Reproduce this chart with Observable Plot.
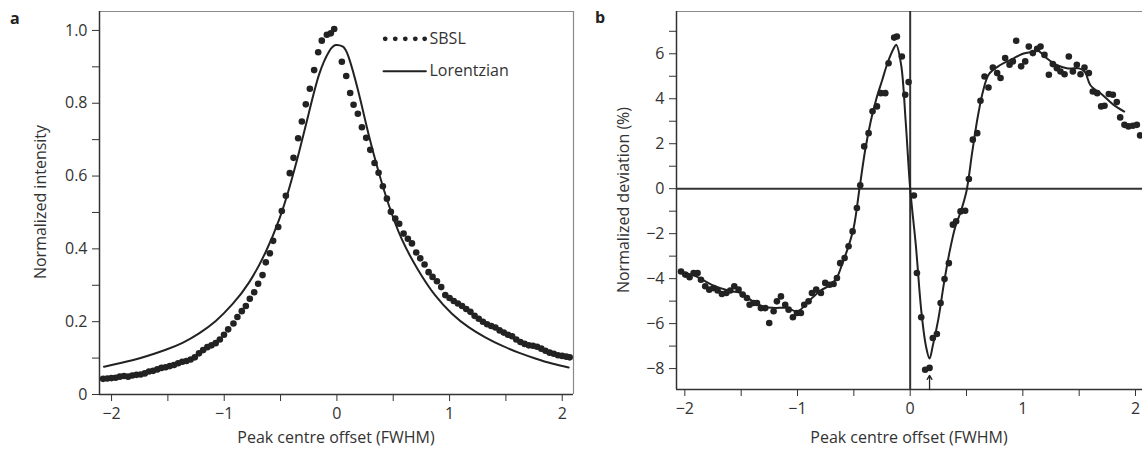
<!DOCTYPE html>
<html><head><meta charset="utf-8">
<script src="https://cdn.jsdelivr.net/npm/d3@7"></script>
<script src="https://cdn.jsdelivr.net/npm/@observablehq/plot@0.6"></script>
<style>
body{margin:0;background:#fff;}
#wrap{position:relative;width:1142px;height:452px;overflow:hidden;font-family:"Open Sans",sans-serif;color:#333;}
.panel{position:absolute;top:0;}
.tag{position:absolute;font-weight:700;font-size:16px;color:#222;line-height:1;}
.ylab{position:absolute;font-size:16px;white-space:nowrap;transform:translate(-50%,-50%) rotate(-90deg);}
.xlab{position:absolute;font-size:16px;white-space:nowrap;transform:translate(-50%,-50%);}
</style></head><body>
<div id="wrap">
  <div class="panel" id="pa" style="left:0"></div>
  <div class="panel" id="pb" style="left:576px"></div>
  <div class="tag" style="left:10px;top:10px">a</div>
  <div class="tag" style="left:595px;top:9px">b</div>
  <div class="ylab" style="left:40px;top:202px">Normalized intensity</div>
  <div class="ylab" style="left:623px;top:200px">Normalized deviation (%)</div>
  <div class="xlab" style="left:336px;top:437px">Peak centre offset (FWHM)</div>
  <div class="xlab" style="left:909px;top:437px">Peak centre offset (FWHM)</div>
</div>
<script>
// ---------- Panel a data ----------
const sbslX = [-2.075,-2.038,-2.001,-1.964,-1.927,-1.890,-1.853,-1.816,-1.779,-1.742,-1.705,-1.668,-1.631,-1.594,-1.557,-1.520,-1.483,-1.446,-1.409,-1.372,-1.335,-1.298,-1.261,-1.224,-1.187,-1.150,-1.113,-1.076,-1.039,-1.002,-0.965,
 -0.918,-0.883,-0.844,-0.808,-0.773,-0.734,-0.699,-0.660,-0.631,-0.595,-0.566,-0.521,-0.489,-0.453,-0.418,-0.385,-0.344,-0.311,-0.276,-0.240,-0.202,-0.166,-0.134,-0.089,-0.054,-0.024,
 0.044,0.083,0.118,0.148,0.186,0.222,0.260,0.296,0.334,0.370,0.408,0.444,0.479,0.518,0.553,0.592,0.630,0.666,0.704,0.740,0.778,0.814,0.849,0.888,0.926,
 0.962,1.000,1.037,1.074,1.111,1.148,1.185,1.222,1.259,1.296,1.333,1.370,1.407,1.444,1.481,1.518,1.555,1.592,1.629,1.666,1.703,1.740,1.777,1.814,1.851,1.888,1.925,1.962,1.999,2.036,2.066];
const sbslY = [0.043,0.044,0.045,0.046,0.049,0.051,0.049,0.052,0.054,0.055,0.058,0.063,0.065,0.069,0.073,0.075,0.078,0.081,0.086,0.090,0.092,0.096,0.102,0.113,0.122,0.130,0.135,0.141,0.151,0.164,0.179,
 0.195,0.213,0.229,0.243,0.263,0.281,0.304,0.328,0.363,0.388,0.422,0.460,0.504,0.546,0.608,0.650,0.704,0.750,0.797,0.840,0.891,0.940,0.972,0.988,0.992,1.004,
 0.914,0.875,0.828,0.796,0.771,0.734,0.705,0.672,0.636,0.609,0.572,0.538,0.502,0.483,0.469,0.442,0.428,0.415,0.390,0.374,0.357,0.336,0.323,0.311,0.295,
 0.273,0.265,0.257,0.250,0.243,0.235,0.227,0.216,0.208,0.200,0.193,0.188,0.184,0.176,0.170,0.164,0.160,0.151,0.144,0.139,0.135,0.134,0.131,0.126,0.120,0.115,0.112,0.108,0.106,0.104,0.102];
const lorX = [-2.067,-1.815,-1.670,-1.519,-1.370,-1.223,-1.075,-0.927,-0.779,-0.631,-0.512,-0.424,-0.335,-0.246,-0.157,-0.068,-0.009,0.050,0.103,0.192,0.281,0.370,0.459,0.577,0.725,0.873,1.021,1.169,1.317,1.465,1.613,1.761,1.909,2.057];
const lorY = [0.076,0.094,0.107,0.123,0.142,0.168,0.202,0.248,0.308,0.392,0.481,0.566,0.667,0.777,0.880,0.943,0.960,0.956,0.928,0.830,0.715,0.612,0.522,0.426,0.340,0.272,0.222,0.185,0.157,0.134,0.115,0.099,0.085,0.074];
const xMajorA = [-2,-1,0,1,2];
const xMinorA = [-1.5,-0.5,0.5,1.5];
const yMajorA = [0,0.2,0.4,0.6,0.8,1.0];
const yMinorA = [0.1,0.3,0.5,0.7,0.9];
const xDomainA = [-2.107,2.1];
const yDomainA = [0,1.052];
const legendNames = ["SBSL","Lorentzian"];
const legendDotX = [0.429,0.518,0.607,0.696,0.779];
const legendRowY = [0.977,0.888];
const legendLineX = [0.414,0.790];
const legendTextX = 0.822;

// ---------- Panel b data ----------
const devX = [-2.034,-1.996,-1.958,-1.922,-1.887,-1.857,-1.819,-1.783,-1.745,-1.709,-1.671,-1.632,-1.597,-1.561,-1.523,-1.487,-1.449,-1.425,-1.390,-1.360,-1.325,-1.286,-1.251,-1.212,-1.183,-1.147,-1.109,-1.079,-1.041,-1.005,-0.970,-0.940,-0.902,-0.872,-0.834,-0.792,-0.754,-0.715,-0.680,-0.650,-0.621,-0.582,-0.547,-0.511,-0.473,-0.443,-0.408,-0.369,-0.334,-0.295,-0.260,-0.221,-0.192,-0.142,-0.118,-0.074,-0.044,-0.014,
 0.033,0.060,0.098,0.133,0.172,0.201,0.237,0.270,0.305,0.343,0.379,0.408,0.447,0.488,0.521,0.556,0.595,0.624,0.660,0.695,0.734,0.772,0.802,0.843,0.882,0.911,0.941,0.985,1.021,1.053,1.089,1.127,1.157,1.192,1.231,1.266,1.302,1.334,1.370,1.408,1.444,1.479,1.512,1.547,1.586,1.621,1.660,1.695,1.725,1.763,1.799,1.834,1.864,1.902,1.937,1.976,2.012,2.041];
const devY = [-3.68,-3.82,-3.94,-3.75,-3.75,-4.05,-4.34,-4.49,-4.42,-4.53,-4.68,-4.64,-4.53,-4.34,-4.49,-4.71,-4.86,-5.16,-5.08,-5.08,-5.31,-5.31,-5.97,-5.45,-5.01,-4.79,-5.16,-5.38,-5.72,-5.53,-5.53,-5.16,-5.01,-4.64,-4.49,-4.64,-4.19,-4.27,-4.24,-3.97,-3.31,-3.08,-2.56,-1.90,-0.86,0.15,1.88,2.47,3.44,3.66,4.25,4.25,5.58,6.72,6.77,5.88,4.18,4.74,
 -0.30,-3.75,-5.72,-8.05,-7.97,-6.64,-6.46,-5.08,-4.02,-3.31,-1.60,-1.45,-1.01,-0.98,0.43,2.18,2.47,3.91,4.99,4.50,5.39,5.14,4.92,5.81,5.51,5.66,6.58,5.44,5.66,6.32,6.03,6.22,6.32,5.95,5.07,5.54,5.36,5.21,5.09,5.88,5.21,5.51,5.09,5.39,5.14,4.32,4.25,3.66,3.69,4.21,4.18,3.85,3.17,2.84,2.77,2.80,2.84,2.37];
const fitX = [-2.03,-1.9,-1.75,-1.6,-1.5,-1.4,-1.3,-1.2,-1.1,-1.0,-0.9,-0.8,-0.7,-0.65,-0.6,-0.55,-0.5,-0.45,-0.4,-0.35,-0.3,-0.25,-0.2,-0.15,-0.124,-0.08,-0.04,0.0,0.05,0.1,0.14,0.172,0.2,0.25,0.3,0.35,0.4,0.45,0.5,0.55,0.6,0.65,0.7,0.8,0.9,1.0,1.1,1.133,1.2,1.3,1.4,1.5,1.55,1.6,1.7,1.8,1.9];
const fitY = [-3.7,-3.9,-4.3,-4.55,-4.65,-5.0,-5.25,-5.3,-5.3,-5.45,-5.0,-4.55,-4.25,-3.95,-3.3,-2.6,-1.7,0.0,1.7,3.0,4.0,4.8,5.6,6.2,6.4,5.5,3.0,0.0,-2.5,-5.5,-7.0,-7.55,-7.0,-5.8,-4.2,-2.8,-1.7,-1.0,-0.1,1.6,3.2,4.4,5.1,5.5,5.75,6.0,6.1,6.15,5.85,5.5,5.35,5.35,5.2,4.6,4.2,3.75,3.43];
const xMajorB = [-2,-1,0,1,2];
const xMinorB = [-1.5,-0.5,0.5,1.5];
const yMajorB = [-8,-6,-4,-2,0,2,4,6];
const yMinorB = [-7,-5,-3,-1,1,3,5,7];
const xDomainB = [-2.074,2.062];
const yDomainB = [-8.93,7.88];
const arrowMark = [{x1:0.172, y1:-8.93, x2:0.172, y2:-8.3}];

// ---------- helpers ----------
const fmtSigned = d => d < 0 ? "\u2212" + Math.abs(d) : String(d);
const fmtA = d => d === 0 ? "0" : d.toFixed(1);
const ink = "#222";
const style = {fontFamily:'"Open Sans", sans-serif', fontSize:"16px", color:"#333", background:"transparent", overflow:"visible"};

const sbsl = sbslX.map((x,i)=>({x, y:sbslY[i]}));
const lor = lorX.map((x,i)=>({x, y:lorY[i]}));
const legDots = legendDotX.map(x=>({x, y:legendRowY[0]}));
const legLine = legendLineX.map(x=>({x, y:legendRowY[1]}));
const legText = legendNames.map((t,i)=>({x:legendTextX, y:legendRowY[i], t}));

const plotA = Plot.plot({
  width:585, height:452,
  marginLeft:99, marginRight:12, marginTop:11, marginBottom:58,
  style,
  x:{domain:xDomainA},
  y:{domain:yDomainA},
  marks:[
    Plot.ruleY([yDomainA[1]], {stroke:"#8a8a8a", strokeWidth:1.2}),
    Plot.ruleX([xDomainA[1]], {stroke:"#8a8a8a", strokeWidth:1.2}),
    Plot.axisX(xMajorA, {tickSize:7, tickPadding:6, tickFormat:fmtSigned, label:null, stroke:"#333"}),
    Plot.axisX(xMinorA, {tickSize:7, tickFormat:()=>"", label:null, stroke:"#333"}),
    Plot.axisY(yMajorA, {tickSize:7, tickPadding:5, tickFormat:fmtA, label:null, stroke:"#333"}),
    Plot.axisY(yMinorA, {tickSize:7, tickFormat:()=>"", label:null, stroke:"#333"}),
    Plot.ruleX([xDomainA[0]], {stroke:"#333", strokeWidth:1.5}),
    Plot.ruleY([yDomainA[0]], {stroke:"#333", strokeWidth:1.5}),
    Plot.line(lor, {x:"x", y:"y", stroke:ink, strokeWidth:2, curve:"natural"}),
    Plot.dot(sbsl, {x:"x", y:"y", r:3.3, fill:ink}),
    Plot.dot(legDots, {x:"x", y:"y", r:2.4, fill:ink}),
    Plot.line(legLine, {x:"x", y:"y", stroke:ink, strokeWidth:2}),
    Plot.text(legText, {x:"x", y:"y", text:"t", textAnchor:"start", fill:"#333", fontSize:16})
  ]
});
document.getElementById("pa").appendChild(plotA);

const dev = devX.map((x,i)=>({x, y:devY[i]}));
const fit = fitX.map((x,i)=>({x, y:fitY[i]}));

const plotB = Plot.plot({
  width:566, height:452,
  marginLeft:100, marginRight:0, marginTop:11, marginBottom:63,
  style,
  x:{domain:xDomainB},
  y:{domain:yDomainB},
  marks:[
    Plot.ruleY([yDomainB[1]], {stroke:"#8a8a8a", strokeWidth:1.2}),
    Plot.axisX(xMajorB, {tickSize:7, tickPadding:6, tickFormat:fmtSigned, label:null, stroke:"#333"}),
    Plot.axisX(xMinorB, {tickSize:7, tickFormat:()=>"", label:null, stroke:"#333"}),
    Plot.axisY(yMajorB, {tickSize:7, tickPadding:5, tickFormat:fmtSigned, label:null, stroke:"#333"}),
    Plot.axisY(yMinorB, {tickSize:7, tickFormat:()=>"", label:null, stroke:"#333"}),
    Plot.ruleX([xDomainB[0]], {stroke:"#333", strokeWidth:1.5}),
    Plot.ruleY([yDomainB[0]], {stroke:"#333", strokeWidth:1.5}),
    Plot.ruleY([0], {stroke:"#333", strokeWidth:2}),
    Plot.ruleX([0], {stroke:"#333", strokeWidth:2}),
    Plot.line(fit, {x:"x", y:"y", stroke:ink, strokeWidth:2, curve:"catmull-rom"}),
    Plot.dot(dev, {x:"x", y:"y", r:3.3, fill:ink}),
    Plot.arrow(arrowMark, {x1:"x1", y1:"y1", x2:"x2", y2:"y2", stroke:ink, strokeWidth:1.3, headLength:7})
  ]
});
document.getElementById("pb").appendChild(plotB);
</script>
</body></html>
